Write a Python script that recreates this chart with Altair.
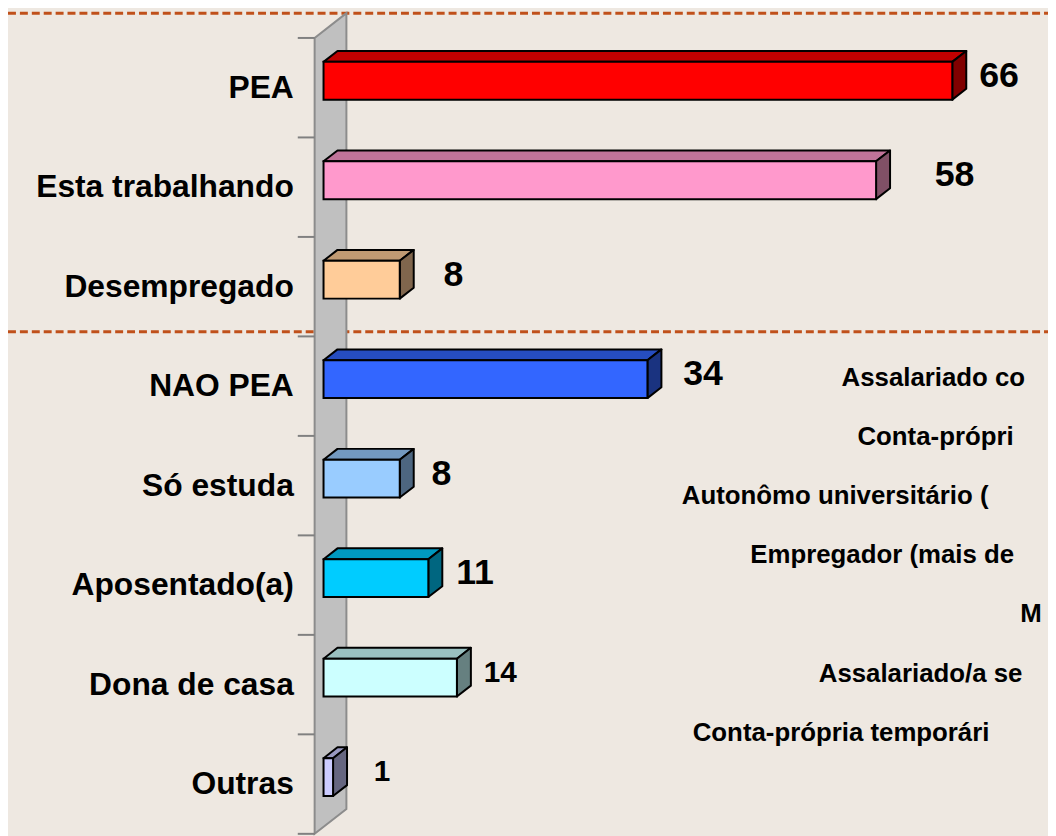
import altair as alt
import pandas as pd

# ---------------- data ----------------
categories = ["PEA", "Esta trabalhando", "Desempregado", "NAO PEA",
              "Só estuda", "Aposentado(a)", "Dona de casa", "Outras"]
values = [66, 58, 8, 34, 8, 11, 14, 1]

front_colors = ["#FF0000", "#FF99CC", "#FFCC99", "#3366FF",
                "#99CCFF", "#00CCFF", "#CCFFFF", "#CCCCFF"]
top_colors = ["#C00000", "#C07399", "#C09A73", "#264DC0",
              "#7399C0", "#0099C0", "#99C0C0", "#9999C0"]
side_colors = ["#800000", "#805066", "#80664D", "#1A3380",
               "#4D6680", "#006680", "#668080", "#666680"]

# style of the value labels (font size, pixel gap after the value point)
value_label_sizes = [36, 36, 36, 36, 36, 36, 30, 30]
value_label_gaps = [36, 68, 53, 45, 41, 37, 36, 50]

# text of an overlapping, cut-off element at the right of the slide
other_labels = ["Assalariado co", "Conta-própri", "Autonômo universitário (",
                "Empregador (mais de", "M", "Assalariado/a se",
                "Conta-própria temporári"]
other_label_left = [848, 864, 687, 756, 1028, 825, 698]

# ---------------- layout constants ----------------
W, H = 1048, 828
PX_X = 9.6        # pixels per unit of x
ZERO_X = 309      # pixel of x = 0 on the front plane
PX_U = 100.25     # pixels per category
ZERO_U = 77.125   # pixel of the first category centre
DX = 32 / PX_X    # full 3-D depth, in x units
DY = 25 / PX_U    # full 3-D depth, in category units
ZF, ZB, HALF = 0.28, 0.72, 0.19
FONT = "Liberation Sans"

xs = alt.Scale(domain=[-ZERO_X / PX_X, (W - ZERO_X) / PX_X], nice=False, zero=False)
ys = alt.Scale(domain=[-ZERO_U / PX_U, (H - ZERO_U) / PX_U], nice=False, zero=False,
               reverse=True)
n = len(categories)


def X(f="x"):
    return alt.X(f"{f}:Q", scale=xs, axis=None, stack=None)


def Y(f="y"):
    return alt.Y(f"{f}:Q", scale=ys, axis=None, stack=None)


# ---------------- 3-D bar faces, one small table per bar ----------------
def top_face(i, v):
    """Parallelogram on top of bar i, sampled along x (vertical-orient area)."""
    a, b = ZF * DX, ZB * DX
    c, d = v + ZF * DX, v + ZB * DX
    yf = i - HALF - ZF * DY
    yb = i - HALF - ZB * DY

    def lower(x):
        return yf if x <= c else yf + (x - c) / (d - c) * (yb - yf)

    def upper(x):
        return yf + (x - a) / (b - a) * (yb - yf) if x <= b else yb

    pts = sorted(set([a, b, c, d]))
    return pd.DataFrame({"x": pts, "y": [lower(x) for x in pts],
                         "y2": [upper(x) for x in pts]})


def side_face(i, v):
    return pd.DataFrame({
        "x": [v + ZF * DX, v + ZB * DX],
        "y": [i + HALF - ZF * DY, i + HALF - ZB * DY],
        "y2": [i - HALF - ZF * DY, i - HALF - ZB * DY],
    })


def front_face(i, v):
    return pd.DataFrame({"x": [ZF * DX], "x2": [v + ZF * DX],
                         "y": [i - HALF - ZF * DY], "y2": [i + HALF - ZF * DY]})


bar_layers = []
for i, v in enumerate(values):
    bar_layers.append(alt.Chart(top_face(i, v)).mark_area(
        orient="vertical", color=top_colors[i], stroke="black", strokeWidth=2,
        strokeJoin="round").encode(x=X(), y=Y(), y2="y2:Q"))
    bar_layers.append(alt.Chart(side_face(i, v)).mark_area(
        orient="vertical", color=side_colors[i], stroke="black", strokeWidth=2,
        strokeJoin="round").encode(x=X(), y=Y(), y2="y2:Q"))
    bar_layers.append(alt.Chart(front_face(i, v)).mark_rect(
        color=front_colors[i], stroke="black", strokeWidth=2).encode(
        x=X(), x2="x2:Q", y=Y(), y2="y2:Q"))

# ---------------- other tables ----------------
wall = pd.DataFrame({
    "x": [0, DX],
    "y": [n - 0.5, n - 0.5 - DY],
    "y2": [-0.5, -0.5 - DY],
})
ticks = pd.DataFrame({"y": [k - 0.5 for k in range(n + 1)],
                      "x": [-17 / PX_X] * (n + 1), "x2": [0] * (n + 1)})
cat_labels = pd.DataFrame({"x": [0] * n, "y": list(range(n)), "text": categories})
val_labels = pd.DataFrame({
    "x": [v + g / PX_X for v, g in zip(values, value_label_gaps)],
    "y": list(range(n)),
    "text": [str(v) for v in values],
    "size": value_label_sizes,
})
box = pd.DataFrame({"y": [(10 - 8 - ZERO_U) / PX_U, (331 - 8 - ZERO_U) / PX_U],
                    "x": [xs.domain[0]] * 2, "x2": [xs.domain[1]] * 2})
others = pd.DataFrame({
    "x": [(p - 8 - ZERO_X) / PX_X for p in other_label_left],
    "y": [(378 - 8 - ZERO_U) / PX_U + k * 59.5 / PX_U for k in range(len(other_labels))],
    "text": other_labels,
})

wall_layer = alt.Chart(wall).mark_area(
    orient="vertical", color="#C0C0C0", stroke="#8C8C8C", strokeWidth=2
).encode(x=X(), y=Y(), y2="y2:Q")

tick_layer = alt.Chart(ticks).mark_rule(color="#808080", strokeWidth=2).encode(
    x=X(), x2="x2:Q", y=Y())

box_layer = alt.Chart(box).mark_rule(
    color="#C0501A", strokeWidth=3, strokeDash=[8, 4]
).encode(x=X(), x2="x2:Q", y=Y())

cat_layer = alt.Chart(cat_labels).mark_text(
    align="right", baseline="middle", dx=-21, font=FONT, fontSize=32,
    fontWeight="bold", color="black"
).encode(x=X(), y=Y(), text="text:N")

val_layer = alt.Chart(val_labels).mark_text(
    align="left", baseline="middle", dy=-12, font=FONT, fontWeight="bold",
    color="black"
).encode(x=X(), y=Y(), text="text:N", size=alt.Size("size:Q", scale=None))

other_layer = alt.Chart(others).mark_text(
    align="left", baseline="middle", font=FONT, fontSize=26, fontWeight="bold",
    color="black"
).encode(x=X(), y=Y(), text="text:N")

chart = alt.layer(
    box_layer, wall_layer, tick_layer, *bar_layers,
    cat_layer, val_layer, other_layer
).properties(
    width=W, height=H, padding=0, autosize="none", background="#EEE8E1"
).configure_view(stroke=None)

chart.save("out.html", embed_options={"renderer": "svg", "actions": False})
